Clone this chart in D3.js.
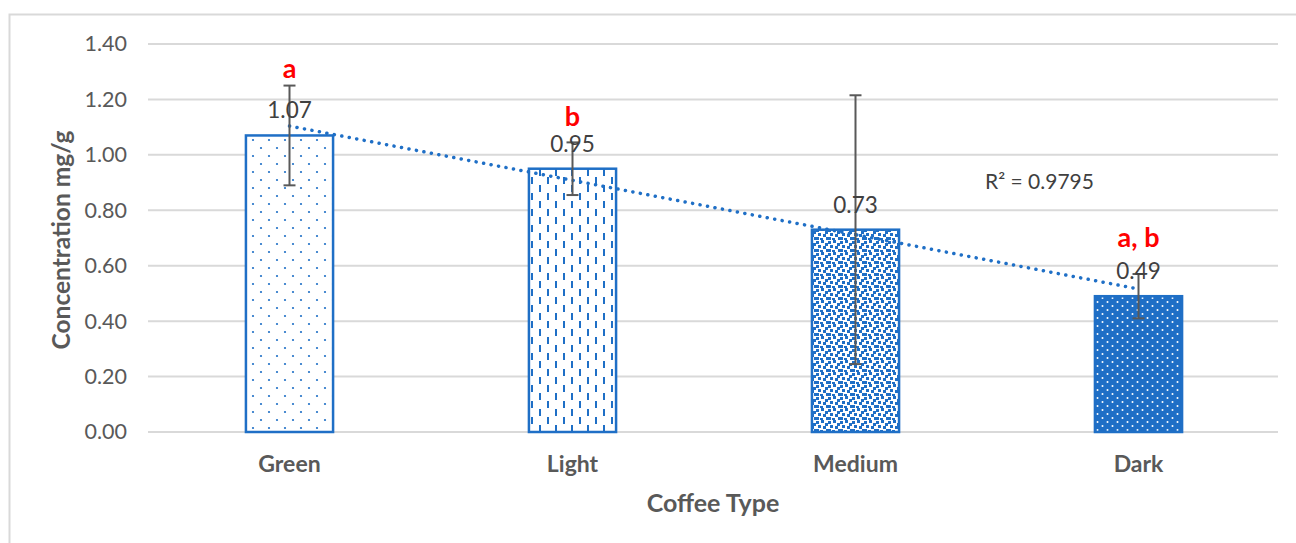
<!DOCTYPE html>
<html><head><meta charset="utf-8">
<script src="https://cdn.jsdelivr.net/npm/d3@7"></script>
<style>body{margin:0;background:#fff;}svg{display:block;font-family:Lato,"Open Sans",sans-serif;}</style>
</head><body><svg id="c" width="1296" height="543"></svg>
<script>
const categories = ["Green","Light","Medium","Dark"];
const values = [1.07, 0.95, 0.73, 0.49];
const errors = [0.18, 0.095, 0.485, 0.08];
const letters = ["a","b","","a, b"];
const letterPos = [1.31, 1.135, 0, 0.70];
const yTicks = [0,0.2,0.4,0.6,0.8,1.0,1.2,1.4];
const r2Label = "R² = 0.9795";
const patterns = ["pGreen","pLight","pMedium","pDark"];

const svg = d3.select("#c");
const blue = "#1f6fc6";
const W=1296,H=543;
const m={l:148,r:1280,t:44,b:432};

// frame
svg.append("path").attr("d",`M9.5,${H} V14.5 H${W}`).attr("fill","none").attr("stroke","#d9d9d9").attr("stroke-width",2);

const x = d3.scaleBand().domain(categories).range([m.l,m.r]).paddingInner(0.685).paddingOuter(0.3425);
const y = d3.scaleLinear().domain([0,1.4]).range([m.b,m.t]);

// patterns
const defs = svg.append("defs");
let p = defs.append("pattern").attr("id","pGreen").attr("patternUnits","userSpaceOnUse").attr("width",16).attr("height",16);
p.append("rect").attr("width",16).attr("height",16).attr("fill","#fff");
p.append("circle").attr("cx",5).attr("cy",4).attr("r",1.1).attr("fill",blue);
p.append("circle").attr("cx",13).attr("cy",12).attr("r",1.1).attr("fill",blue);

p = defs.append("pattern").attr("id","pLight").attr("patternUnits","userSpaceOnUse").attr("width",16).attr("height",16);
p.append("rect").attr("width",16).attr("height",16).attr("fill","#fff");
p.append("rect").attr("x",3).attr("y",1).attr("width",2).attr("height",7).attr("fill",blue);
p.append("rect").attr("x",11).attr("y",9).attr("width",2).attr("height",7).attr("fill",blue);

p = defs.append("pattern").attr("id","pMedium").attr("patternUnits","userSpaceOnUse").attr("width",12).attr("height",12);
p.append("rect").attr("width",12).attr("height",12).attr("fill","#fff");
[[0,1],[5,0],[9,3],[2,5],[7,6],[0,9],[4,10],[10,9]].forEach(d=>p.append("rect").attr("x",d[0]).attr("y",d[1]).attr("width",3).attr("height",3).attr("fill",blue));

p = defs.append("pattern").attr("id","pDark").attr("patternUnits","userSpaceOnUse").attr("width",10).attr("height",8);
p.append("rect").attr("width",10).attr("height",8).attr("fill",blue);
p.append("circle").attr("cx",2.5).attr("cy",2).attr("r",1).attr("fill","#fff");
p.append("circle").attr("cx",7.5).attr("cy",6).attr("r",1).attr("fill","#fff");

// grid
svg.append("g").selectAll("line").data(yTicks).join("line")
  .attr("x1",m.l).attr("x2",1278).attr("y1",d=>y(d)).attr("y2",d=>y(d))
  .attr("stroke","#d9d9d9").attr("stroke-width",2);

// y axis labels
const ya = svg.append("g").attr("transform",`translate(${m.l},0)`)
  .call(d3.axisLeft(y).tickValues(yTicks).tickFormat(d3.format(".2f")).tickSize(0).tickPadding(21));
ya.select(".domain").remove();
ya.selectAll("text").attr("font-size",21.5).attr("fill","#595959").attr("font-family","Lato,sans-serif");

// x axis labels
const xa = svg.append("g").attr("transform",`translate(0,${m.b})`)
  .call(d3.axisBottom(x).tickSize(0).tickPadding(24));
xa.select(".domain").remove();
xa.selectAll("text").attr("font-size",23).attr("font-weight","bold").attr("fill","#595959").attr("font-family","Lato,sans-serif");

// bars
svg.append("g").selectAll("rect").data(values).join("rect")
  .attr("x",(d,i)=>x(categories[i])+1).attr("width",x.bandwidth()-2)
  .attr("y",d=>y(d)).attr("height",d=>y(0)-y(d))
  .attr("fill",(d,i)=>`url(#${patterns[i]})`).attr("stroke",blue).attr("stroke-width",2.5);

// trendline (linear regression)
const xs = values.map((d,i)=>i+1);
const mx = d3.mean(xs), my = d3.mean(values);
const slope = d3.sum(xs.map((xx,i)=>(xx-mx)*(values[i]-my)))/d3.sum(xs.map(xx=>(xx-mx)**2));
const icpt = my - slope*mx;
const cx = i=>x(categories[i])+x.bandwidth()/2;
svg.append("line").attr("x1",cx(0)).attr("y1",y(icpt+slope*1)).attr("x2",cx(3)).attr("y2",y(icpt+slope*4))
  .attr("stroke",blue).attr("stroke-width",3.5).attr("stroke-linecap","round").attr("stroke-dasharray","0.1 7.5");

// error bars
const eb = svg.append("g").attr("stroke","#595959").attr("stroke-width",2);
values.forEach((v,i)=>{
  const c=cx(i);
  eb.append("line").attr("x1",c).attr("x2",c).attr("y1",y(v+errors[i])).attr("y2",y(v-errors[i]));
  [v+errors[i],v-errors[i]].forEach(e=>eb.append("line").attr("x1",c-6).attr("x2",c+6).attr("y1",y(e)).attr("y2",y(e)));
});

// value labels
svg.append("g").selectAll("text").data(values).join("text")
  .attr("x",(d,i)=>cx(i)).attr("y",d=>y(d)-17).attr("text-anchor","middle")
  .attr("font-size",22.5).attr("fill","#404040").text(d=>d.toFixed(2));

// significance letters
svg.append("g").selectAll("text").data(letters).join("text")
  .attr("x",(d,i)=>cx(i)).attr("y",(d,i)=>y(letterPos[i])+9).attr("text-anchor","middle")
  .attr("font-size",27).attr("font-weight","bold").attr("fill","#ff0000").text(d=>d);

// R2
svg.append("text").attr("x",985).attr("y",189).attr("font-size",21).attr("fill","#404040").text(r2Label);

// axis titles
svg.append("text").attr("x",713).attr("y",512).attr("text-anchor","middle")
  .attr("font-size",25).attr("font-weight","bold").attr("fill","#595959").text("Coffee Type");
svg.append("text").attr("transform","translate(70,240) rotate(-90)").attr("text-anchor","middle")
  .attr("font-size",24.5).attr("font-weight","bold").attr("fill","#595959").text("Concentration mg/g");
</script></body></html>
